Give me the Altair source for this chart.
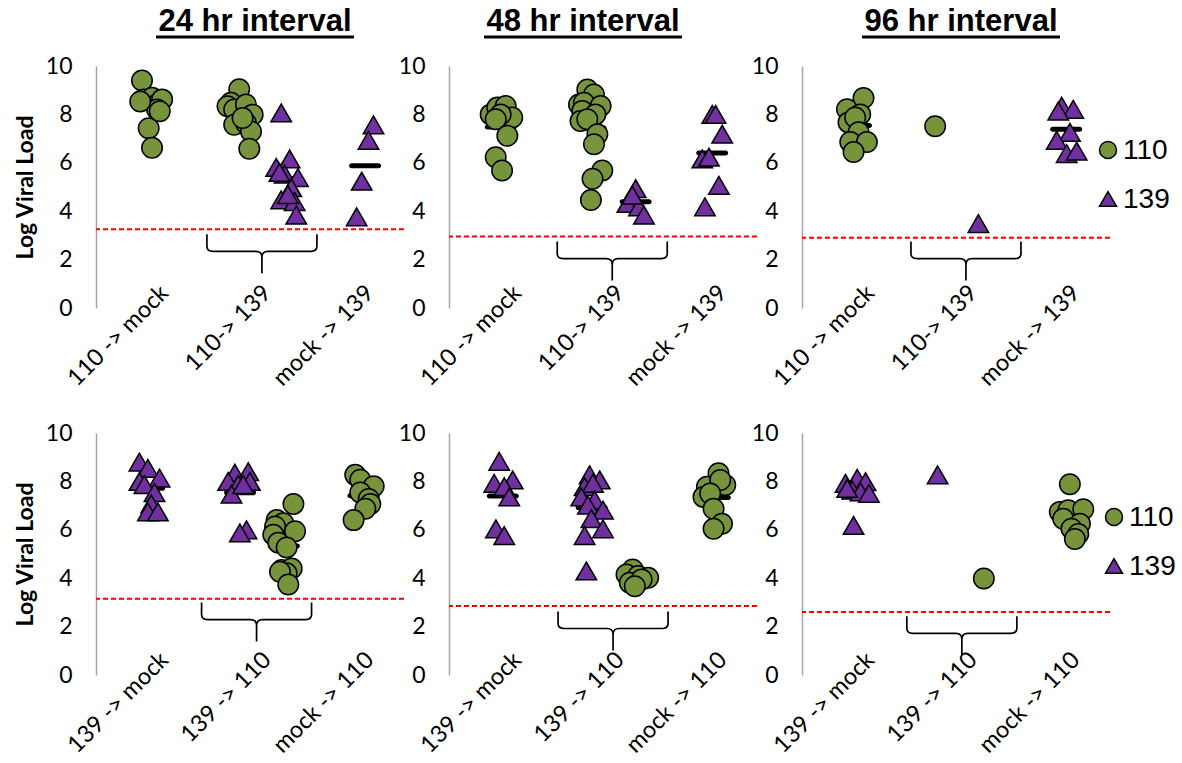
import altair as alt
import pandas as pd

GREEN = "#77933C"
PURPLE = "#7030A0"

interval_titles = ["24 hr interval", "48 hr interval", "96 hr interval"]
top_categories = ["110 -> mock", "110-> 139", "mock -> 139"]
bottom_categories = ["139 -> mock", "139 -> 110", "mock -> 110"]
series_names = ["110", "139"]
y_ticks = [0, 2, 4, 6, 8, 10]
y_title = "Log Viral Load"

# detection limit (red dashed line) per panel
thresholds = [3.25, 2.95, 2.9, 3.15, 2.85, 2.6]
# brace centre under the middle group, per panel
brace_x = [1.616, 1.59, 1.597, 1.564, 1.598, 1.557]
brace_y = [2.3, 2.0, 2.0, 2.25, 1.88, 1.68]

# ---- panel 1 : 24 hr, 110 first ----
p1_110_x = [0.448, 0.464, 0.546, 0.595, 0.644, 0.595, 0.513, 0.546, 0.431, 0.621,
            1.395, 1.314, 1.281, 1.346, 1.461, 1.526, 1.346, 1.461, 1.510, 1.493, 1.428]
p1_110_y = [9.40, 8.62, 8.69, 8.41, 8.62, 8.20, 7.43, 6.62, 8.53, 8.13,
            9.04, 8.48, 8.34, 8.20, 8.41, 7.99, 7.57, 7.64, 7.29, 6.58, 7.85]
p1_139_x = [1.804, 1.755, 1.886, 1.837, 1.967, 1.902, 1.804, 1.935, 1.951, 1.869, 1.787,
            2.703, 2.654, 2.588, 2.539]
p1_139_y = [8.06, 5.81, 6.16, 5.53, 5.39, 4.97, 4.47, 4.40, 3.84, 4.68, 5.60,
            7.57, 6.93, 5.24, 3.77]

# ---- panel 2 : 48 hr, 110 first ----
p2_110_x = [0.406, 0.470, 0.552, 0.616, 0.503, 0.455, 0.568, 0.455, 0.517,
            1.347, 1.412, 1.266, 1.314, 1.477, 1.298, 1.426, 1.281, 1.347, 1.445, 1.412, 1.493, 1.398, 1.382]
p2_110_y = [8.00, 8.28, 8.35, 7.87, 8.00, 7.80, 7.12, 6.23, 5.68,
            9.03, 8.82, 8.41, 8.48, 8.35, 8.14, 8.00, 7.73, 7.80, 7.18, 6.77, 5.68, 5.34, 4.46]
p2_139_x = [1.818, 1.737, 1.850, 1.899, 1.785,
            2.564, 2.597, 2.661, 2.467, 2.532, 2.629, 2.493]
p2_139_y = [4.93, 4.32, 4.18, 3.84, 4.66,
            8.00, 8.00, 7.18, 6.16, 6.23, 5.07, 4.18]

# ---- panel 3 : 96 hr, 110 first ----
p3_110_x = [0.599, 0.438, 0.567, 0.453, 0.518, 0.551, 0.470, 0.632, 0.502, 1.297]
p3_110_y = [8.68, 8.21, 8.00, 7.67, 7.87, 7.26, 6.86, 6.86, 6.45, 7.51]
p3_139_x = [1.718, 2.529, 2.642, 2.496, 2.610, 2.481, 2.578, 2.675]
p3_139_y = [3.49, 8.34, 8.21, 8.14, 7.26, 6.93, 6.38, 6.48]

# ---- panel 4 : 24 hr, 139 first ----
p4_110_x = [1.923, 1.760, 1.825, 1.744, 1.939, 1.727, 1.776, 1.857, 1.808, 1.906, 1.857, 1.792, 1.873,
            2.525, 2.574, 2.705, 2.574, 2.656, 2.672, 2.623, 2.509]
p4_110_y = [7.07, 6.40, 6.27, 6.14, 5.94, 5.80, 5.47, 5.27, 4.34, 4.40, 4.20, 4.27, 3.74,
            8.27, 8.07, 7.80, 7.54, 7.27, 7.07, 6.87, 6.40]
p4_139_x = [0.423, 0.505, 0.619, 0.423, 0.472, 0.570, 0.538, 0.505, 0.603,
            1.352, 1.483, 1.287, 1.499, 1.385, 1.320, 1.434, 1.466, 1.401]
p4_139_y = [8.80, 8.54, 8.14, 8.00, 7.87, 7.54, 7.07, 6.74, 6.74,
            8.34, 8.40, 8.00, 8.00, 7.87, 7.47, 7.87, 6.00, 5.87]

# ---- panel 5 : 48 hr, 139 first ----
p5_110_x = [1.789, 1.729, 1.842, 1.940, 1.761, 1.876, 1.810,
            2.625, 2.691, 2.512, 2.642, 2.479, 2.544, 2.577, 2.659, 2.577]
p5_110_y = [4.36, 4.15, 4.09, 4.02, 3.81, 3.95, 3.67,
            8.34, 7.85, 7.78, 8.06, 7.36, 7.50, 6.87, 6.25, 6.04]
p5_139_x = [0.489, 0.440, 0.620, 0.538, 0.587, 0.457, 0.538,
            1.370, 1.468, 1.321, 1.402, 1.288, 1.419, 1.353, 1.500, 1.387, 1.500, 1.321, 1.338]
p5_139_y = [8.83, 7.92, 8.06, 7.78, 7.36, 6.04, 5.76,
            8.27, 8.06, 7.78, 7.92, 7.36, 7.23, 7.02, 6.81, 6.46, 6.04, 5.76, 4.30]

# ---- panel 6 : 96 hr, 139 first ----
p6_110_x = [1.771, 2.609, 2.511, 2.593, 2.740, 2.544, 2.707, 2.625, 2.691, 2.658]
p6_110_y = [3.99, 7.88, 6.74, 6.81, 6.85, 6.46, 6.25, 6.04, 5.83, 5.62]
p6_139_x = [0.424, 0.538, 0.619, 0.489, 0.570, 0.652, 0.440, 0.502, 1.321]
p6_139_y = [7.92, 8.13, 7.99, 7.64, 7.57, 7.50, 7.71, 6.18, 8.27]

BRACE = ("M-1,-0.327 L-1,-0.109 Q-1,-0.018 -0.891,-0.018 L-0.109,-0.018 "
         "Q0,-0.018 0,0.091 L0,0.38 M0,0.091 Q0,-0.018 0.109,-0.018 "
         "L0.891,-0.018 Q1,-0.018 1,-0.109 L1,-0.327")

W, H = 308, 242
LABEL_FONT = "Lato"


def panel(i, c_x, c_y, t_x, t_y, cats, show_ytitle, title=None, title_dx=0, legend=False, leg_dx=306):
    label_expr = (f"datum.value == 0.5 ? '{cats[0]}' : datum.value == 1.5 ? '{cats[1]}' : '{cats[2]}'")
    xenc = alt.X("x:Q", scale=alt.Scale(domain=[0, 3], nice=False, zero=False),
                 axis=alt.Axis(values=[0.5, 1.5, 2.5], labelExpr=label_expr, labelAngle=-45,
                               labelAlign="right", labelBaseline="middle", labelOffset=17,
                               labelPadding=-19, ticks=False, domain=False, grid=False,
                               labelOverlap=False, labelFontSize=23.5, labelFont=LABEL_FONT,
                               labelColor="black"),
                 title=None)
    yaxis = alt.Axis(values=y_ticks, ticks=False, grid=False, domainColor="#A6A6A6",
                     domainWidth=1.5, labelFontSize=23, labelFont=LABEL_FONT,
                     labelColor="black", labelPadding=24, titleFont=LABEL_FONT,
                     titleFontSize=23, titleFontWeight="bold", titleColor="black",
                     titlePadding=8)
    if show_ytitle:
        yenc = alt.Y("y:Q", scale=alt.Scale(domain=[0, 10], nice=False), axis=yaxis, title=y_title)
    else:
        yenc = alt.Y("y:Q", scale=alt.Scale(domain=[0, 10], nice=False), axis=yaxis, title=None)

    circ = pd.DataFrame({"x": c_x, "y": c_y})
    tri = pd.DataFrame({"x": t_x, "y": t_y})

    rule = alt.Chart(pd.DataFrame({"y": [thresholds[i]]})).mark_rule(
        color="#FF0000", strokeDash=[5, 3], strokeWidth=2).encode(y=yenc)

    def means(df):
        return alt.Chart(df).transform_calculate(g="floor(datum.x)").transform_aggregate(
            x="mean(x)", y="mean(y)", n="count()", groupby=["g"]
        ).transform_filter("datum.n > 1").mark_tick(
            orient="horizontal", size=32, thickness=5, color="black", cornerRadius=2.5, opacity=1
        ).encode(x=xenc, y=yenc)

    circles = alt.Chart(circ).mark_point(shape="circle", filled=True, fill=GREEN, stroke="black",
                                         strokeWidth=1.5, size=420, opacity=1).encode(x=xenc, y=yenc)
    triangles = alt.Chart(tri).mark_point(shape="triangle-up", filled=True, fill=PURPLE, stroke="black",
                                          strokeWidth=1.5, size=420, opacity=1).encode(x=xenc, y=yenc)
    brace = alt.Chart(pd.DataFrame({"x": [brace_x[i]], "y": [brace_y[i]]})).mark_point(
        shape=BRACE, size=12100, filled=False, stroke="black", strokeWidth=1.7, opacity=1
    ).encode(x=xenc, y=yenc)

    layers = [rule, means(circ), means(tri), circles, triangles, brace]

    if title is not None:
        tdf = pd.DataFrame({"t": [title]})
        layers.append(alt.Chart(tdf).mark_text(font="Liberation Sans", fontSize=31, fontWeight="bold",
                                               color="black", align="center", baseline="middle").encode(
            text="t:N", x=alt.value(title_dx), y=alt.value(-44)))
        layers.append(alt.Chart(tdf).mark_rule(color="black", strokeWidth=3).encode(
            x=alt.value(title_dx - 99), x2=alt.value(title_dx + 99), y=alt.value(-29)))

    if legend:
        ldf0 = pd.DataFrame({"s": [series_names[0]]})
        ldf1 = pd.DataFrame({"s": [series_names[1]]})
        layers.append(alt.Chart(ldf0).mark_point(shape="circle", filled=True, fill=GREEN, stroke="black",
                                                 strokeWidth=1.5, size=290, opacity=1).encode(
            x=alt.value(leg_dx), y=alt.value(84)))
        layers.append(alt.Chart(ldf1).mark_point(shape="triangle-up", filled=True, fill=PURPLE,
                                                 stroke="black", strokeWidth=1.5, size=290, opacity=1).encode(
            x=alt.value(leg_dx), y=alt.value(133)))
        layers.append(alt.Chart(ldf0).mark_text(font="Liberation Sans", fontSize=28, color="black",
                                                align="left", baseline="middle").encode(
            text="s:N", x=alt.value(leg_dx + 15), y=alt.value(85)))
        layers.append(alt.Chart(ldf1).mark_text(font="Liberation Sans", fontSize=28, color="black",
                                                align="left", baseline="middle").encode(
            text="s:N", x=alt.value(leg_dx + 15), y=alt.value(134)))

    return alt.layer(*layers).properties(width=W, height=H)


p1 = panel(0, p1_110_x, p1_110_y, p1_139_x, p1_139_y, top_categories, True, interval_titles[0], 159)
p2 = panel(1, p2_110_x, p2_110_y, p2_139_x, p2_139_y, top_categories, False, interval_titles[1], 134)
p3 = panel(2, p3_110_x, p3_110_y, p3_139_x, p3_139_y, top_categories, False, interval_titles[2], 159,
           legend=True, leg_dx=306)
p4 = panel(3, p4_110_x, p4_110_y, p4_139_x, p4_139_y, bottom_categories, True)
p5 = panel(4, p5_110_x, p5_110_y, p5_139_x, p5_139_y, bottom_categories, False)
p6 = panel(5, p6_110_x, p6_110_y, p6_139_x, p6_139_y, bottom_categories, False,
           legend=True, leg_dx=312)

chart = alt.concat(p1, p2, p3, p4, p5, p6, columns=3, spacing={"row": 125, "column": 45},
                   bounds="flush").configure_view(stroke=None).properties(
    padding={"left": 14, "top": 6, "right": 5, "bottom": 5}, background="white")

chart.save("out.html", embed_options={"renderer": "svg", "actions": False})
